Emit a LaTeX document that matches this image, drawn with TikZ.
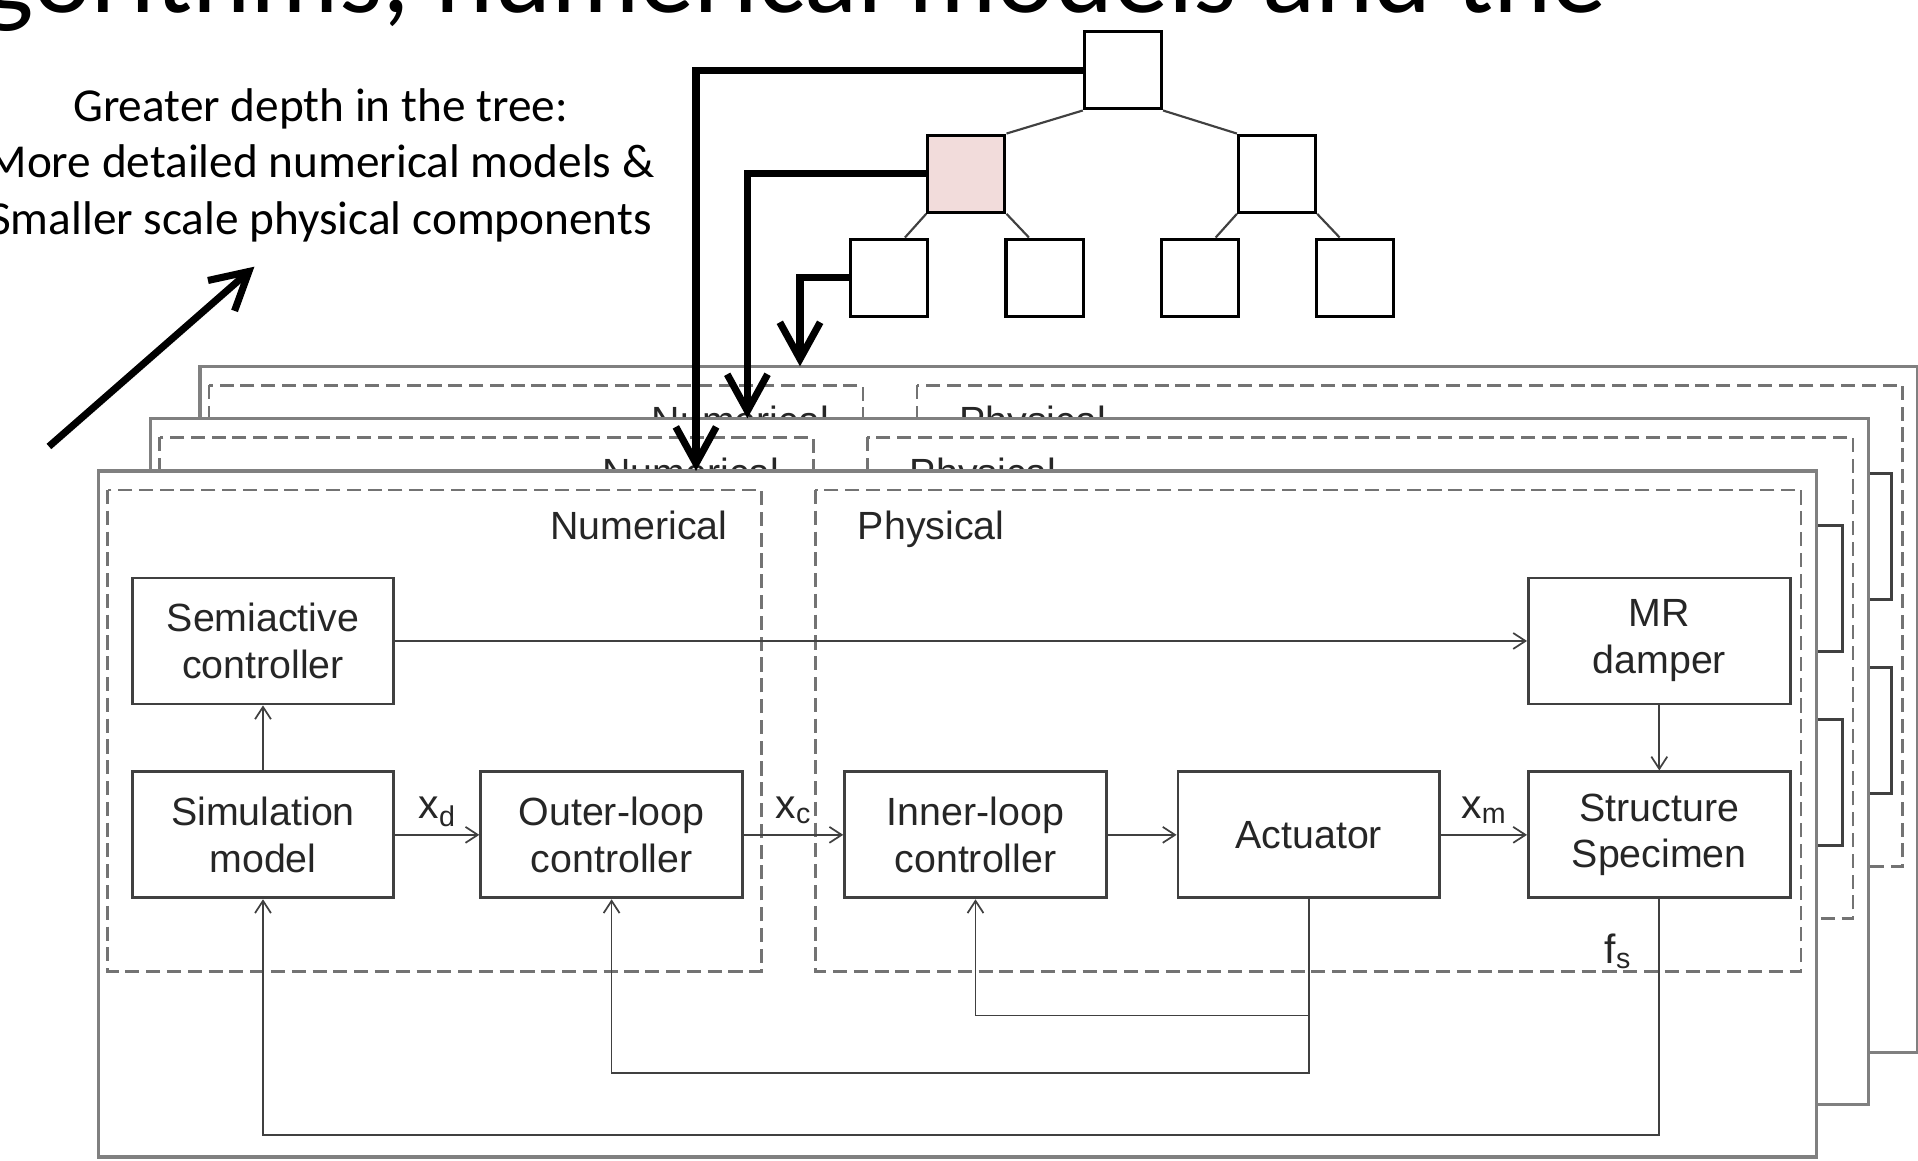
\documentclass[tikz,border=0pt]{standalone}
\usepackage{fontspec}
\setmainfont{Liberation Sans}
\newfontfamily\notefont{Carlito}
\usetikzlibrary{arrows.meta}

\definecolor{rosefill}{RGB}{242,220,219}

\tikzset{
  block/.style={rectangle,draw=black!75,line width=1.3pt,fill=white,text=black!85,
    minimum width=4.28cm,minimum height=2.06cm,align=center,
    font=\fontsize{18.3}{21.8}\selectfont},
  panel/.style={rectangle,draw=black!50,line width=1.6pt,fill=white,inner sep=0pt,
    minimum width=28.09cm,minimum height=11.22cm},
  zone/.style={draw=black!55,line width=1.2pt,dash pattern=on 2.3mm off 1.1mm},
  zonelabel/.style={inner sep=0pt,text=black!85,font=\fontsize{18.3}{21}\selectfont},
  signal/.style={inner sep=0pt,text=black!85,font=\fontsize{19}{21}\selectfont},
  flow/.style={draw=black!75,line width=0.8pt,-{Straight Barb[length=2mm,width=2.6mm]}},
  treebox/.style={rectangle,draw=black,line width=1.5pt,fill=white,minimum size=1.26cm,inner sep=0pt},
  treeedge/.style={draw=black!75,line width=1pt},
  jump/.style={line width=3.3pt,-{Straight Barb[length=6mm,width=6.6mm]}},
}

% one copy of the hybrid test loop: #1 name prefix, #2 offset
\newcommand\drawlayer[2]{%
\begin{scope}[shift={#2}]
    \node[panel] (#1panel) at (782.8,665.5) {};
    \draw[zone] (88,400.5) rectangle (622.5,794); % numerical part
    \draw[zone] (666.5,400.5) rectangle (1472.5,794); % physical part
    \node[zonelabel,anchor=base east] (#1num) at (595,441) {Numerical};
    \node[zonelabel,anchor=base west] (#1phys) at (701,441) {Physical};

    \node[block] (#1semi) at (215,524) {Semiactive\\controller};
    \node[block] (#1sim) at (215,682.5) {Simulation\\model};
    \node[block] (#1outer) at (500,682.5) {Outer-loop\\controller};
    \node[block] (#1inner) at (797.5,682.5) {Inner-loop\\controller};
    \node[block] (#1act) at (1070,682.5) {Actuator};
    \node[block] (#1mr) at (1356.5,524) {MR\\damper};
    \node[block] (#1struct) at (1356.5,682.5) {Structure\\Specimen};

    \draw[flow] (#1sim) -- (#1semi);
    \draw[flow] (#1semi) -- (#1mr);
    \draw[flow] (#1mr) -- (#1struct);
    \draw[flow] (#1sim) -- node[signal,anchor=base,yshift=2.7mm] {x\textsubscript{d}} (#1outer);
    \draw[flow] (#1outer) -- node[signal,anchor=base,yshift=2.7mm] {x\textsubscript{c}} (#1inner);
    \draw[flow] (#1inner) -- (#1act);
    \draw[flow] (#1act) -- node[signal,anchor=base,yshift=2.7mm] {x\textsubscript{m}} (#1struct);

    % feedback loops
    \draw[flow] (#1act.south) -- ++(0,95) -| (#1inner.south);
    \draw[flow] (#1act.south) -- ++(0,142) -| (#1outer.south);
    \draw[flow] (#1struct.south) -- node[signal,pos=0.22,left=4.4mm] {f\textsubscript{s}} ++(0,193) -| (#1sim.south);
\end{scope}}

\begin{document}
\begin{tikzpicture}[x=0.2mm,y=-0.2mm]
    \useasboundingbox (0,0) rectangle (1568,949);

    \node[anchor=base east,inner sep=0pt,font=\notefont\fontsize{51.5}{60}\selectfont]
        (title) at (1314,10) {gorithms, numerical models and the};
    \node[align=center,inner sep=0pt,font=\notefont\fontsize{22}{26.2}\selectfont]
        (depthnote) at (262,135) {Greater depth in the tree:\\More detailed numerical models \&\\Smaller scale physical components};

    % stacked loops, back to front
    \drawlayer{L3}{(83,-85.5)}
    \drawlayer{L2}{(42.5,-43)}
    \drawlayer{L1}{(0,0)}

    % tree of models
    \node[treebox] (root) at (918,57.5) {};
    \node[treebox,fill=rosefill] (midL) at (790,142) {};
    \node[treebox] (midR) at (1044,142) {};
    \node[treebox] (leafA) at (727,227) {};
    \node[treebox] (leafB) at (854,227) {};
    \node[treebox] (leafC) at (981,227) {};
    \node[treebox] (leafD) at (1108,227) {};

    \draw[treeedge] (root.south west) -- (midL.north east);
    \draw[treeedge] (root.south east) -- (midR.north west);
    \draw[treeedge] (midL.south west) -- ([xshift=-4mm]leafA.north east);
    \draw[treeedge] (midL.south east) -- ([xshift=4mm]leafB.north west);
    \draw[treeedge] (midR.south west) -- ([xshift=-4mm]leafC.north east);
    \draw[treeedge] (midR.south east) -- ([xshift=4mm]leafD.north west);

    % paths into the layers
    \coordinate (drop1) at (569,385);
    \coordinate (drop2) at (611,342);
    \coordinate (drop3) at (654,299.5);
    \draw[jump] (root.west) -| (drop1); % root -> front loop
    \draw[jump] (midL.west) -| (drop2); % second level -> middle loop
    \draw[jump] (leafA.west) -| (drop3); % leaf -> back loop

    \coordinate (deepfrom) at (40,365);
    \coordinate (deepto) at (208,218);
    \draw[jump] (deepfrom) -- (deepto);
\end{tikzpicture}
\end{document}
